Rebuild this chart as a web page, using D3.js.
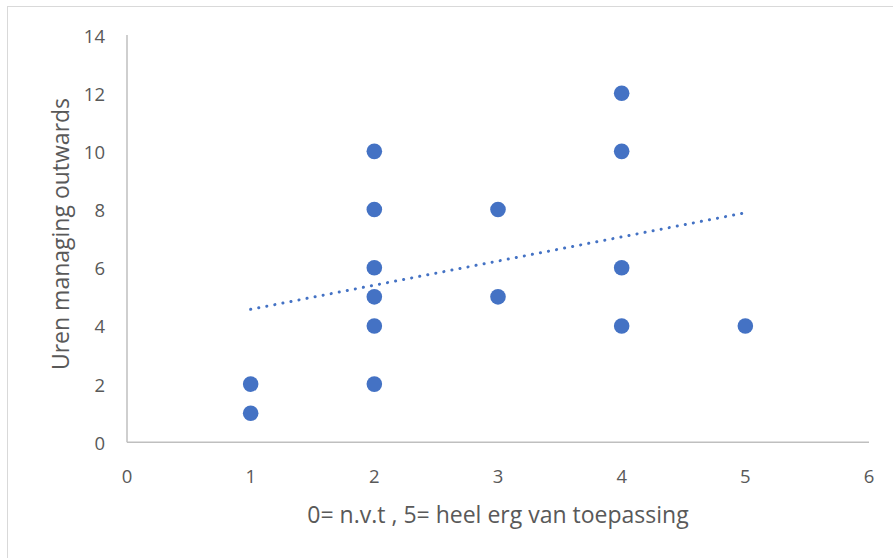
<!DOCTYPE html>
<html>
<head>
<meta charset="utf-8">
<script src="https://cdn.jsdelivr.net/npm/d3@7"></script>
<style>
  html, body { margin: 0; padding: 0; background: #fff; }
  svg { display: block; }
  text { font-family: "Open Sans", "Liberation Sans", sans-serif; fill: #595959; }
</style>
</head>
<body>
<svg id="chart" width="893" height="558"></svg>
<script>
// Survey answers: score (0 = n.v.t, 5 = heel erg van toepassing) vs. hours
const scores = [1, 1, 2, 2, 2, 2, 2, 2, 3, 3, 4, 4, 4, 4, 5];
const hours  = [2, 1, 10, 8, 6, 5, 4, 2, 8, 5, 12, 10, 6, 4, 4];

// Linear trendline coefficients (hours = slope * score + intercept)
const trendSlope = 0.83;
const trendIntercept = 3.74;
const trendRange = [1, 5];

const xTicks = [0, 1, 2, 3, 4, 5, 6];
const yTicks = [0, 2, 4, 6, 8, 10, 12, 14];
const xTitle = "0= n.v.t , 5= heel erg van toepassing";
const yTitle = "Uren managing outwards";

const svg = d3.select("#chart");
const W = 893, H = 558;
const color = "#4472C4";

// Chart area frame
svg.append("rect")
  .attr("x", 7.5).attr("y", 6.5)
  .attr("width", W).attr("height", H)
  .attr("fill", "none").attr("stroke", "#D9D9D9").attr("stroke-width", 1);

const x = d3.scaleLinear().domain([0, 6]).range([127, 869]);
const y = d3.scaleLinear().domain([0, 14]).range([442.3, 35]);

// Axis lines
svg.append("line")
  .attr("x1", x(0)).attr("x2", x(6)).attr("y1", y(0)).attr("y2", y(0))
  .attr("stroke", "#BFBFBF").attr("stroke-width", 1.5);
svg.append("line")
  .attr("x1", x(0)).attr("x2", x(0)).attr("y1", y(0)).attr("y2", y(14))
  .attr("stroke", "#BFBFBF").attr("stroke-width", 1.5);

// Tick labels
svg.append("g").selectAll("text").data(xTicks).join("text")
  .attr("x", d => x(d)).attr("y", 475)
  .attr("text-anchor", "middle").attr("dominant-baseline", "central")
  .attr("font-size", 18.5)
  .text(d => d);

svg.append("g").selectAll("text").data(yTicks).join("text")
  .attr("x", 105).attr("y", d => y(d))
  .attr("text-anchor", "end").attr("dominant-baseline", "central")
  .attr("font-size", 18.5)
  .text(d => d);

// Axis titles
svg.append("text")
  .attr("x", 498).attr("y", 514)
  .attr("text-anchor", "middle").attr("dominant-baseline", "central")
  .attr("font-size", 23)
  .text(xTitle);

svg.append("text")
  .attr("transform", `translate(60, 234) rotate(-90)`)
  .attr("text-anchor", "middle").attr("dominant-baseline", "central")
  .attr("font-size", 23)
  .text(yTitle);

// Data points
svg.append("g").selectAll("circle").data(scores.map((s, i) => [s, hours[i]])).join("circle")
  .attr("cx", d => x(d[0])).attr("cy", d => y(d[1]))
  .attr("r", 7.8)
  .attr("fill", color);

// Dotted linear trendline
const line = d3.line().x(d => x(d)).y(d => y(trendSlope * d + trendIntercept));
svg.append("path")
  .attr("d", line(trendRange))
  .attr("fill", "none")
  .attr("stroke", color)
  .attr("stroke-width", 3)
  .attr("stroke-linecap", "round")
  .attr("stroke-dasharray", "0.1 8.1");
</script>
</body>
</html>
